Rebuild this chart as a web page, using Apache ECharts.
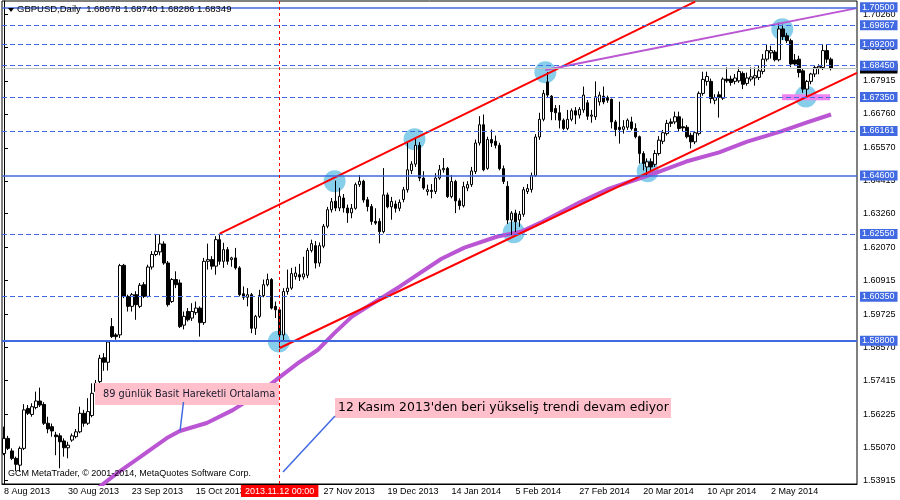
<!DOCTYPE html>
<html><head><meta charset="utf-8">
<script src="https://cdn.jsdelivr.net/npm/echarts@6/dist/echarts.min.js"></script>
<style>html,body{margin:0;padding:0;background:#fff}#c{width:900px;height:500px}</style>
</head><body><div id="c"></div>
<script>
// Daily GBPUSD bars: [open, high, low, close]
const ohlc = [
[1.5485,1.5579,1.5479,1.5538],[1.5538,1.5547,1.5497,1.5503],[1.5494,1.5503,1.5462,1.5468],[1.5468,1.5474,1.5423,1.5447],
[1.5444,1.5510,1.5421,1.5503],[1.5503,1.5658,1.5497,1.5638],[1.5643,1.5655,1.5620,1.5626],[1.5622,1.5661,1.5614,1.5649],
[1.5646,1.5702,1.5640,1.5669],[1.5669,1.5716,1.5648,1.5655],[1.5657,1.5665,1.5585,1.5591],[1.5591,1.5614,1.5556,1.5571],
[1.5579,1.5590,1.5544,1.5564],[1.5550,1.5561,1.5479,1.5544],[1.5547,1.5556,1.5433,1.5526],[1.5529,1.5538,1.5474,1.5505],
[1.5505,1.5526,1.5468,1.5514],[1.5532,1.5555,1.5526,1.5547],[1.5544,1.5571,1.5538,1.5561],[1.5561,1.5649,1.5556,1.5626],
[1.5626,1.5638,1.5579,1.5591],[1.5591,1.5679,1.5585,1.5632],[1.5618,1.5731,1.5612,1.5696],[1.5702,1.5743,1.5690,1.5731],
[1.5737,1.5831,1.5714,1.5819],[1.5821,1.5837,1.5775,1.5805],[1.5805,1.5880,1.5776,1.5876],[1.5930,1.5960,1.5890,1.5895],
[1.5901,1.5907,1.5884,1.5895],[1.5901,1.6150,1.5890,1.6144],[1.6145,1.6150,1.6030,1.6036],[1.6036,1.6042,1.5983,1.6001],
[1.6001,1.6048,1.5983,1.6042],[1.6042,1.6054,1.5954,1.6007],[1.6001,1.6083,1.5995,1.6075],[1.6077,1.6086,1.6030,1.6036],
[1.6036,1.6147,1.6032,1.6139],[1.6139,1.6195,1.6130,1.6183],[1.6183,1.6255,1.6177,1.6194],[1.6192,1.6253,1.6180,1.6220],
[1.6220,1.6229,1.6147,1.6153],[1.6153,1.6160,1.6000,1.6007],[1.6018,1.6100,1.6013,1.6095],[1.6095,1.6124,1.6065,1.6077],
[1.6083,1.6095,1.5925,1.5930],[1.5935,1.5983,1.5920,1.5966],[1.5983,1.5995,1.5948,1.5954],[1.5960,1.6012,1.5950,1.5983],
[1.5979,1.6018,1.5971,1.5995],[1.5995,1.6001,1.5895,1.5944],[1.5944,1.6171,1.5936,1.6159],[1.6159,1.6221,1.6130,1.6165],
[1.6165,1.6177,1.6130,1.6142],[1.6142,1.6247,1.6112,1.6235],[1.6235,1.6256,1.6147,1.6159],[1.6159,1.6224,1.6136,1.6200],
[1.6200,1.6209,1.6147,1.6159],[1.6165,1.6175,1.6140,1.6171],[1.6171,1.6206,1.6130,1.6136],[1.6136,1.6142,1.6036,1.6042],
[1.6045,1.6071,1.6024,1.6033],[1.6033,1.6065,1.6001,1.6042],[1.6042,1.6048,1.5907,1.5924],[1.5924,1.5971,1.5901,1.5966],
[1.5966,1.6059,1.5960,1.6039],[1.6039,1.6095,1.6033,1.6077],[1.6077,1.6116,1.6071,1.6095],[1.6095,1.6100,1.5990,1.5995],
[1.6001,1.6018,1.5960,1.5989],[1.5989,1.5995,1.5855,1.5901],[1.5901,1.6065,1.5883,1.6053],[1.6053,1.6130,1.6042,1.6065],
[1.6065,1.6136,1.6059,1.6116],[1.6106,1.6140,1.6095,1.6118],[1.6112,1.6150,1.6090,1.6104],[1.6104,1.6175,1.6095,1.6115],
[1.6110,1.6206,1.6100,1.6197],[1.6197,1.6235,1.6190,1.6221],[1.6214,1.6230,1.6134,1.6153],[1.6153,1.6225,1.6140,1.6214],
[1.6212,1.6290,1.6205,1.6282],[1.6282,1.6350,1.6275,1.6340],[1.6340,1.6381,1.6330,1.6368],[1.6370,1.6442,1.6335,1.6346],
[1.6346,1.6417,1.6335,1.6387],[1.6381,1.6395,1.6330,1.6346],[1.6346,1.6358,1.6294,1.6329],[1.6329,1.6360,1.6310,1.6345],
[1.6345,1.6435,1.6340,1.6428],[1.6428,1.6462,1.6420,1.6440],[1.6440,1.6445,1.6365,1.6374],[1.6375,1.6385,1.6334,1.6351],
[1.6351,1.6360,1.6287,1.6299],[1.6299,1.6345,1.6287,1.6293],[1.6299,1.6310,1.6222,1.6263],[1.6263,1.6486,1.6257,1.6392],
[1.6392,1.6400,1.6345,1.6350],[1.6350,1.6385,1.6305,1.6369],[1.6360,1.6372,1.6330,1.6345],[1.6345,1.6376,1.6335,1.6366],
[1.6376,1.6420,1.6366,1.6410],[1.6410,1.6574,1.6400,1.6480],[1.6477,1.6510,1.6465,1.6500],[1.6500,1.6595,1.6490,1.6566],
[1.6566,1.6577,1.6440,1.6451],[1.6451,1.6475,1.6410,1.6416],[1.6404,1.6428,1.6390,1.6410],[1.6408,1.6430,1.6380,1.6404],
[1.6404,1.6468,1.6395,1.6451],[1.6451,1.6497,1.6445,1.6480],[1.6480,1.6521,1.6470,1.6485],[1.6485,1.6490,1.6381,1.6386],
[1.6386,1.6462,1.6380,1.6439],[1.6439,1.6445,1.6328,1.6371],[1.6371,1.6380,1.6340,1.6354],[1.6354,1.6438,1.6348,1.6421],
[1.6416,1.6440,1.6405,1.6428],[1.6428,1.6490,1.6420,1.6476],[1.6474,1.6586,1.6465,1.6574],[1.6574,1.6668,1.6565,1.6638],
[1.6638,1.6674,1.6475,1.6480],[1.6485,1.6596,1.6480,1.6586],[1.6586,1.6621,1.6560,1.6574],[1.6580,1.6600,1.6555,1.6566],
[1.6566,1.6575,1.6478,1.6484],[1.6484,1.6495,1.6430,1.6439],[1.6422,1.6440,1.6290,1.6304],[1.6304,1.6335,1.6252,1.6328],
[1.6328,1.6340,1.6262,1.6298],[1.6304,1.6335,1.6280,1.6324],[1.6324,1.6420,1.6315,1.6410],[1.6404,1.6430,1.6395,1.6414],
[1.6411,1.6470,1.6400,1.6460],[1.6460,1.6605,1.6455,1.6595],[1.6595,1.6680,1.6585,1.6657],[1.6657,1.6760,1.6650,1.6748],
[1.6788,1.6823,1.6735,1.6742],[1.6738,1.6742,1.6654,1.6684],[1.6695,1.6707,1.6654,1.6680],[1.6680,1.6707,1.6625,1.6654],
[1.6654,1.6660,1.6619,1.6625],[1.6625,1.6690,1.6619,1.6657],[1.6657,1.6695,1.6650,1.6687],[1.6687,1.6700,1.6640,1.6672],
[1.6672,1.6700,1.6660,1.6692],[1.6690,1.6772,1.6680,1.6742],[1.6715,1.6725,1.6655,1.6668],[1.6668,1.6690,1.6645,1.6672],
[1.6666,1.6790,1.6655,1.6736],[1.6718,1.6754,1.6705,1.6742],[1.6738,1.6772,1.6710,1.6718],[1.6733,1.6740,1.6715,1.6724],
[1.6727,1.6730,1.6625,1.6648],[1.6648,1.6655,1.6598,1.6621],[1.6629,1.6719,1.6572,1.6621],[1.6622,1.6654,1.6607,1.6631],
[1.6629,1.6660,1.6620,1.6654],[1.6648,1.6666,1.6618,1.6625],[1.6625,1.6643,1.6590,1.6596],[1.6596,1.6600,1.6502,1.6537],
[1.6537,1.6545,1.6478,1.6502],[1.6490,1.6520,1.6462,1.6508],[1.6508,1.6520,1.6475,1.6490],[1.6499,1.6549,1.6490,1.6537],
[1.6537,1.6598,1.6530,1.6584],[1.6580,1.6620,1.6570,1.6610],[1.6607,1.6655,1.6600,1.6643],[1.6648,1.6660,1.6630,1.6643],
[1.6648,1.6684,1.6640,1.6666],[1.6666,1.6684,1.6613,1.6625],[1.6631,1.6660,1.6615,1.6627],[1.6629,1.6637,1.6590,1.6596],
[1.6601,1.6610,1.6555,1.6578],[1.6578,1.6615,1.6570,1.6610],[1.6607,1.6755,1.6600,1.6748],[1.6748,1.6824,1.6740,1.6797],
[1.6790,1.6824,1.6775,1.6807],[1.6790,1.6800,1.6713,1.6730],[1.6724,1.6745,1.6710,1.6733],[1.6743,1.6755,1.6663,1.6734],
[1.6731,1.6804,1.6725,1.6798],[1.6798,1.6839,1.6785,1.6792],[1.6798,1.6810,1.6775,1.6786],[1.6790,1.6816,1.6780,1.6802],
[1.6792,1.6839,1.6785,1.6825],[1.6818,1.6825,1.6763,1.6780],[1.6783,1.6821,1.6775,1.6802],[1.6798,1.6839,1.6790,1.6806],
[1.6802,1.6839,1.6775,1.6810],[1.6804,1.6845,1.6795,1.6827],[1.6825,1.6886,1.6815,1.6868],[1.6868,1.6921,1.6860,1.6898],
[1.6890,1.6915,1.6870,1.6898],[1.6893,1.6900,1.6860,1.6866],[1.6866,1.6996,1.6860,1.6974],[1.6974,1.6989,1.6935,1.6947],
[1.6950,1.6960,1.6925,1.6933],[1.6933,1.6940,1.6840,1.6851],[1.6865,1.6886,1.6845,1.6851],[1.6868,1.6880,1.6804,1.6821],
[1.6827,1.6835,1.6750,1.6763],[1.6763,1.6795,1.6733,1.6790],[1.6790,1.6820,1.6780,1.6816],[1.6816,1.6845,1.6805,1.6839],
[1.6837,1.6850,1.6815,1.6843],[1.6839,1.6919,1.6830,1.6898],[1.6898,1.6919,1.6855,1.6868],[1.68678,1.68740,1.68286,1.68349]
];

// time axis: one slot per bar plus empty right shift
const slotCount = 214;
const tickEvery = 16;
const tickLabels = ['8 Aug 2013','30 Aug 2013','23 Sep 2013','15 Oct 2013','6 Nov 2013','27 Nov 2013','19 Dec 2013',
  '14 Jan 2014','5 Feb 2014','27 Feb 2014','20 Mar 2014','10 Apr 2014','2 May 2014'];

// price scale
const priceMin = 1.5378, priceMax = 1.7072;
const priceTicks = [1.53915,1.55070,1.56225,1.57415,1.58570,1.59725,1.60915,1.62070,1.63260,1.64415,1.65570,1.66760,1.67915,1.69105,1.70260];

// horizontal levels
const levelPrices = [1.70500,1.69867,1.69200,1.68450,1.67350,1.66161,1.64600,1.62550,1.60350,1.58800];
const solidLevels = [1.70500,1.64600,1.58800];
const bidPrice = 1.68349;

// crosshair
const crossBar = 69;
const crossLabel = '2013.11.12 00:00';

// drawn objects: [barIndex, price]
const touchPoints = [[68.8,1.5878],[82.75,1.6440],[102.75,1.6587],[127.6,1.6261],[135.5,1.6822],[161.1,1.6475],[194.8,1.6973],[200.7,1.6737]];
const upperChannel = [[54,1.6256],[173,1.7070]];
const lowerChannel = [[69,1.5855],[213.5,1.6820]];
const upperResistance = [[135.5,1.6830],[213.5,1.7047]];
const supportMark = [[194.75,1.6734],[206.75,1.6734]];

// 89-day simple moving average as drawn
const sma89 = [[23,1.5358],[27.75,1.5410],[29.4,1.5427],[34.75,1.5479],[36.5,1.5497],[40.75,1.5539],[44,1.5564],[50.75,1.5592],
  [57.25,1.5637],[64,1.5697],[69,1.5753],[74,1.5806],[78.5,1.5848],[82.75,1.5908],[87,1.5964],[89.75,1.5989],[99,1.6070],
  [109.5,1.6168],[115.25,1.6207],[123.5,1.6246],[129.5,1.6263],[134.75,1.6298],[144,1.6365],[151.5,1.6414],[158.25,1.6446],
  [164,1.6474],[170.75,1.6509],[179,1.6541],[186,1.6579],[194.5,1.6615],[201,1.6646],[207,1.6674]];

const headerText = 'GBPUSD,Daily  1.68678 1.68740 1.68286 1.68349';
const copyrightText = 'GCM MetaTrader, \u00A9 2001-2014, MetaQuotes Software Corp.';
const noteMA = '89 g\u00FCnl\u00FCk Basit Hareketli Ortalama';
const noteTrend = "12 Kas\u0131m 2013'den beri y\u00FCkseli\u015F trendi devam ediyor";

const FONT = 'Liberation Sans';
const categories = Array.from({length: slotCount}, (_, i) => String(i));
const candleData = ohlc.map(d => [d[0], d[3], d[2], d[1]]);
const isTick = i => i % tickEvery === 0 && i / tickEvery < tickLabels.length;

const levelLines = [{
  yAxis: bidPrice,
  lineStyle: {color: '#C0C0C0', type: 'solid', width: 1},
  label: {backgroundColor: '#000', color: '#000'}
}].concat(levelPrices.map(p => {
  const solid = solidLevels.indexOf(p) >= 0;
  return {
    yAxis: p,
    lineStyle: {color: '#4169E1', type: solid ? 'solid' : [5, 3], width: p === 1.588 ? 2 : (solid ? 1.5 : 1)},
    label: {backgroundColor: '#4169E1', color: '#fff'}
  };
}));

const chart = echarts.init(document.getElementById('c'));
chart.setOption({
  animation: false,
  backgroundColor: '#fff',
  textStyle: {fontFamily: FONT},
  grid: {left: 2, right: 43, top: 1, bottom: 16, show: true, borderColor: '#000', borderWidth: 1},
  xAxis: [{
    type: 'category', data: categories, boundaryGap: true,
    axisLine: {lineStyle: {color: '#000', width: 1}},
    axisTick: {alignWithLabel: true, interval: i => isTick(i), length: 3, lineStyle: {color: '#000'}},
    axisLabel: {interval: i => isTick(i), formatter: (v, i) => tickLabels[i / tickEvery] || '',
      align: 'left', color: '#000', fontSize: 9, fontFamily: FONT, margin: 3,
      showMinLabel: true, showMaxLabel: true, hideOverlap: false},
    splitLine: {show: false}
  }, {
    type: 'value', min: -0.5, max: slotCount - 0.5, show: false
  }],
  yAxis: {
    type: 'value', position: 'right', min: priceMin, max: priceMax,
    axisLine: {show: true, lineStyle: {color: '#000'}},
    axisTick: {show: true, customValues: priceTicks, length: 4, lineStyle: {color: '#000'}},
    axisLabel: {customValues: priceTicks, formatter: v => v.toFixed(5), color: '#000', fontSize: 9, fontFamily: FONT, margin: 6},
    splitLine: {show: false}
  },
  series: [
    {type: 'scatter', xAxisIndex: 1, data: touchPoints, symbol: 'circle', symbolSize: 22,
      itemStyle: {color: '#87CEEB', opacity: 1}, z: 1, silent: true},
    {type: 'line', xAxisIndex: 1, data: sma89, symbol: 'none', smooth: false,
      lineStyle: {color: '#BA55D3', width: 4}, z: 2, silent: true},
    {type: 'candlestick', xAxisIndex: 0, data: candleData, barWidth: 3, z: 3,
      itemStyle: {color: '#ffffff', color0: '#000000', borderColor: '#000000', borderColor0: '#000000', borderWidth: 1},
      markLine: {
        silent: true, symbol: ['none', 'none'], animation: false, precision: 5,
        label: {show: true, position: 'end', distance: 3, formatter: p => Number(p.value).toFixed(5),
          fontSize: 9, fontFamily: FONT, padding: [1, 3, 0, 2]},
        data: levelLines.concat([{
          xAxis: String(crossBar),
          lineStyle: {color: '#FF0000', type: [3, 3], width: 1},
          label: {position: 'start', formatter: crossLabel, backgroundColor: '#FF0000', color: '#fff',
            padding: [2, 4, 1, 4], distance: 1}
        }])
      }},
    {type: 'line', xAxisIndex: 1, data: upperChannel, symbol: 'none', lineStyle: {color: '#FF0000', width: 2}, z: 4, silent: true},
    {type: 'line', xAxisIndex: 1, data: lowerChannel, symbol: 'none', lineStyle: {color: '#FF0000', width: 2}, z: 4, silent: true},
    {type: 'line', xAxisIndex: 1, data: upperResistance, symbol: 'none', lineStyle: {color: '#BA55D3', width: 2}, z: 4, silent: true},
    {type: 'line', xAxisIndex: 1, data: supportMark, symbol: 'none', lineStyle: {color: '#EE82EE', width: 6}, z: 2, silent: true}
  ],
  graphic: [
    {type: 'polygon', z: 100, shape: {points: [[8, 8], [14, 8], [11, 12]]}, style: {fill: '#000'}},
    {type: 'text', z: 100, left: 17, top: 4, style: {text: headerText, fill: '#000', fontSize: 9.5, fontFamily: FONT}},
    {type: 'text', z: 100, left: 8, top: 469, style: {text: copyrightText, fill: '#000', fontSize: 9, fontFamily: FONT}},
    {type: 'rect', z: 90, shape: {x: 95, y: 383, width: 184, height: 22}, style: {fill: '#FFC0CB'}},
    {type: 'text', z: 100, x: 103, y: 394, style: {text: noteMA, fill: '#1a1a2e', fontSize: 9.8, fontFamily: 'DejaVu Sans', verticalAlign: 'middle'}},
    {type: 'line', z: 100, shape: {x1: 180, y1: 431, x2: 183.5, y2: 402}, style: {stroke: '#4169E1', lineWidth: 1.5}},
    {type: 'rect', z: 90, shape: {x: 335, y: 398, width: 336, height: 20}, style: {fill: '#FFC0CB'}},
    {type: 'text', z: 100, x: 338, y: 408, style: {text: noteTrend, fill: '#000', fontSize: 12.4, fontFamily: 'DejaVu Sans', verticalAlign: 'middle'}},
    {type: 'line', z: 100, shape: {x1: 335, y1: 416, x2: 283, y2: 472}, style: {stroke: '#4169E1', lineWidth: 1.5}}
  ]
});
</script>
</body></html>
